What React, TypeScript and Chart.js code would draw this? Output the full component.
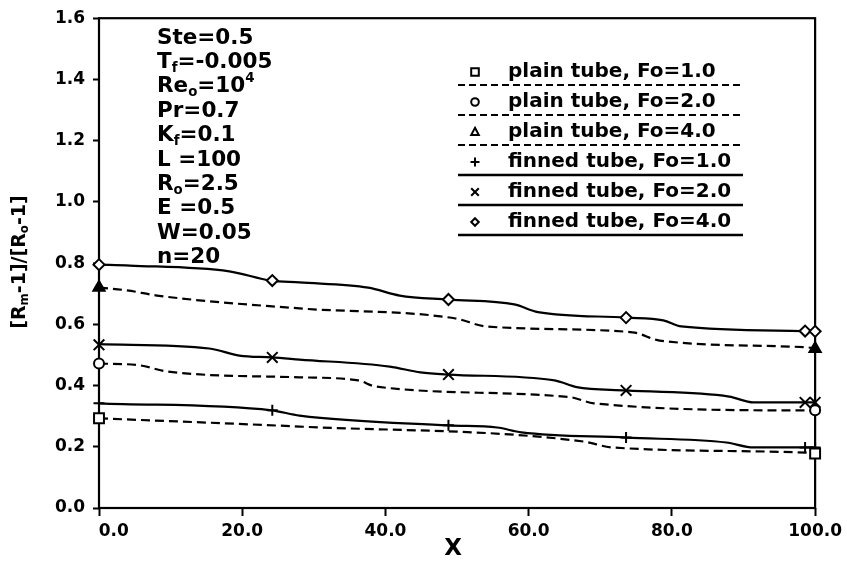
import React, { useEffect, useRef } from 'react';
import { Chart, registerables } from 'chart.js';

Chart.register(...registerables);

// ---------- data ----------
const xTickValues = [0, 20, 40, 60, 80, 100];
const yTickValues = [0, 0.2, 0.4, 0.6, 0.8, 1.0, 1.2, 1.4, 1.6];

// plain tube curves (dashed)
const plain1X = [0, 28.0, 67.7, 71.6, 98.7, 100];
const plain1Y = [0.293, 0.266, 0.217, 0.198, 0.181, 0.178];
const plain2X = [0, 5.7, 9.5, 28.0, 36.2, 38.6, 65.8, 69.1, 98.7, 100];
const plain2Y = [0.472, 0.466, 0.446, 0.427, 0.417, 0.397, 0.362, 0.342, 0.319, 0.319];
const plain4X = [0, 3.9, 8.1, 28.0, 49.8, 54.1, 74.5, 78.3, 98.7, 100];
const plain4Y = [0.72, 0.711, 0.694, 0.652, 0.619, 0.593, 0.574, 0.547, 0.525, 0.522];

// finned tube curves (solid)
const finned1X = [0, 24.1, 28.0, 48.8, 55.6, 59.0, 73.6, 87.6, 91.4, 98.6, 100];
const finned1Y = [0.342, 0.319, 0.302, 0.27, 0.263, 0.247, 0.23, 0.214, 0.198, 0.198, 0.198];
const finned2X = [0, 15.4, 19.6, 24.1, 28.0, 40.6, 44.9, 48.7, 63.6, 66.7, 73.6, 88.0, 91.4, 98.6, 100];
const finned2Y = [0.535, 0.521, 0.498, 0.492, 0.485, 0.462, 0.443, 0.436, 0.417, 0.395, 0.384, 0.364, 0.345, 0.345, 0.345];
const finned4X = [0, 4.3, 18.2, 24.0, 28.0, 37.6, 42.0, 48.8, 58.0, 61.3, 73.6, 78.8, 81.3, 98.2, 100];
const finned4Y = [0.795, 0.792, 0.773, 0.743, 0.737, 0.72, 0.694, 0.681, 0.665, 0.64, 0.622, 0.613, 0.593, 0.578, 0.577];

// markers
const plainMarkX = [0, 100];
const plain1MarkY = [0.293, 0.178];
const plain2MarkY = [0.472, 0.319];
const plain4MarkY = [0.72, 0.52];
const finnedMarkX = [0, 24.2, 48.8, 73.6, 98.6, 100];
const finned1MarkY = [0.342, 0.319, 0.27, 0.23, 0.198, 0.198];
const finned2MarkY = [0.533, 0.492, 0.436, 0.384, 0.345, 0.345];
const finned4MarkY = [0.795, 0.743, 0.681, 0.622, 0.578, 0.577];

const legendLabels = [
  'plain tube, Fo=1.0',
  'plain tube, Fo=2.0',
  'plain tube, Fo=4.0',
  'finned tube, Fo=1.0',
  'finned tube, Fo=2.0',
  'finned tube, Fo=4.0',
];
const legendMarkers = ['rect', 'circle', 'triangle', 'cross', 'crossRot', 'rectRot'];
const legendDashed = [true, true, true, false, false, false];

type Seg = { t: string; sub?: boolean; sup?: boolean };
const paramLines: Seg[][] = [
  [{ t: 'Ste=0.5' }],
  [{ t: 'T' }, { t: 'f', sub: true }, { t: '=-0.005' }],
  [{ t: 'Re' }, { t: 'o', sub: true }, { t: '=10' }, { t: '4', sup: true }],
  [{ t: 'Pr=0.7' }],
  [{ t: 'K' }, { t: 'f', sub: true }, { t: '=0.1' }],
  [{ t: 'L =100' }],
  [{ t: 'R' }, { t: 'o', sub: true }, { t: '=2.5' }],
  [{ t: 'E =0.5' }],
  [{ t: 'W=0.05' }],
  [{ t: 'n=20' }],
];
const yTitle: Seg[] = [
  { t: '[R' }, { t: 'm', sub: true }, { t: '-1]/[R' }, { t: 'o', sub: true }, { t: '-1]' },
];
const xTitle = 'X';

const FONT = '"DejaVu Sans", "Liberation Sans", Arial, sans-serif';

const pts = (xs: number[], ys: number[]) => xs.map((x, i) => ({ x, y: ys[i] }));

function richWidth(ctx: CanvasRenderingContext2D, segs: Seg[], size: number) {
  let w = 0;
  for (const s of segs) {
    const fs = s.sub || s.sup ? size * 0.62 : size;
    ctx.font = `bold ${fs}px ${FONT}`;
    w += ctx.measureText(s.t).width;
  }
  return w;
}

function drawRich(ctx: CanvasRenderingContext2D, segs: Seg[], x: number, y: number, size: number) {
  let cx = x;
  for (const s of segs) {
    const fs = s.sub || s.sup ? size * 0.62 : size;
    ctx.font = `bold ${fs}px ${FONT}`;
    const dy = s.sub ? size * 0.28 : s.sup ? -size * 0.38 : 0;
    ctx.fillText(s.t, cx, y + dy);
    cx += ctx.measureText(s.t).width;
  }
}

function drawMarker(ctx: CanvasRenderingContext2D, style: string, x: number, y: number, r: number) {
  ctx.save();
  ctx.strokeStyle = '#000';
  ctx.fillStyle = '#fff';
  ctx.lineWidth = 2;
  ctx.setLineDash([]);
  ctx.beginPath();
  if (style === 'rect') {
    ctx.rect(x - r, y - r, 2 * r, 2 * r);
    ctx.fill();
    ctx.stroke();
  } else if (style === 'circle') {
    ctx.arc(x, y, r, 0, Math.PI * 2);
    ctx.fill();
    ctx.stroke();
  } else if (style === 'triangle') {
    ctx.moveTo(x, y - r * 1.1);
    ctx.lineTo(x + r, y + r * 0.8);
    ctx.lineTo(x - r, y + r * 0.8);
    ctx.closePath();
    ctx.fill();
    ctx.stroke();
  } else if (style === 'cross') {
    ctx.moveTo(x - r, y);
    ctx.lineTo(x + r, y);
    ctx.moveTo(x, y - r);
    ctx.lineTo(x, y + r);
    ctx.stroke();
  } else if (style === 'crossRot') {
    ctx.moveTo(x - r, y - r);
    ctx.lineTo(x + r, y + r);
    ctx.moveTo(x + r, y - r);
    ctx.lineTo(x - r, y + r);
    ctx.stroke();
  } else if (style === 'rectRot') {
    ctx.moveTo(x, y - r);
    ctx.lineTo(x + r, y);
    ctx.lineTo(x, y + r);
    ctx.lineTo(x - r, y);
    ctx.closePath();
    ctx.fill();
    ctx.stroke();
  }
  ctx.restore();
}

const framePlugin = {
  id: 'frame',
  beforeDatasetsDraw(chart: any) {
    const { ctx, chartArea } = chart;
    const { left, right, top, bottom } = chartArea;
    ctx.save();
    ctx.strokeStyle = '#000';
    ctx.lineWidth = 2.2;
    ctx.strokeRect(left, top, right - left, bottom - top);
    ctx.restore();
  },
};

const overlayPlugin = {
  id: 'overlay',
  afterDraw(chart: any) {
    const { ctx } = chart;
    ctx.save();
    ctx.fillStyle = '#000';
    ctx.textBaseline = 'middle';
    ctx.textAlign = 'left';

    // parameter block
    paramLines.forEach((segs, i) => {
      drawRich(ctx, segs, 157, 38 + i * 24.4, 21.5);
    });

    // legend
    legendLabels.forEach((label, i) => {
      const cy = 72 + i * 30;
      drawMarker(ctx, legendMarkers[i], 475, cy, legendMarkers[i] === 'cross' ? 4.5 : 3.8);
      ctx.fillStyle = '#000';
      ctx.font = `bold 20px ${FONT}`;
      ctx.fillText(label, 508, cy);
      ctx.beginPath();
      ctx.strokeStyle = '#000';
      if (legendDashed[i]) {
        ctx.setLineDash([7, 4]);
        ctx.lineWidth = 1.8;
      } else {
        ctx.setLineDash([]);
        ctx.lineWidth = 2.4;
      }
      ctx.moveTo(458, cy + 13);
      ctx.lineTo(743, cy + 13);
      ctx.stroke();
      ctx.setLineDash([]);
    });

    // y title
    ctx.save();
    ctx.translate(20, 262);
    ctx.rotate(-Math.PI / 2);
    const w = richWidth(ctx, yTitle, 19);
    drawRich(ctx, yTitle, -w / 2, 0, 19);
    ctx.restore();

    // x title
    ctx.font = `bold 23px ${FONT}`;
    ctx.textAlign = 'center';
    ctx.fillText(xTitle, 453, 549);
    ctx.restore();
  },
};

function lineDs(xs: number[], ys: number[], dashed: boolean) {
  return {
    type: 'line',
    data: pts(xs, ys),
    borderColor: '#000',
    borderWidth: 2.2,
    borderDash: dashed ? [9, 5] : [],
    pointRadius: 0,
    cubicInterpolationMode: 'monotone',
    fill: false,
    order: 2,
  };
}

function markDs(xs: number[], ys: number[], style: string, radius: number, filled: boolean) {
  return {
    type: 'scatter',
    data: pts(xs, ys),
    showLine: false,
    pointStyle: style,
    pointRadius: radius,
    pointBorderColor: '#000',
    pointBackgroundColor: filled ? '#000' : '#fff',
    pointBorderWidth: 2,
    clip: false,
    order: 1,
  };
}

export default function App() {
  const canvasRef = useRef<HTMLCanvasElement | null>(null);

  useEffect(() => {
    document.body.style.margin = '0';
    const canvas = canvasRef.current;
    if (!canvas) return;
    const chart = new Chart(canvas, {
      type: 'line',
      data: {
        datasets: [
          lineDs(plain1X, plain1Y, true),
          lineDs(plain2X, plain2Y, true),
          lineDs(plain4X, plain4Y, true),
          lineDs(finned1X, finned1Y, false),
          lineDs(finned2X, finned2Y, false),
          lineDs(finned4X, finned4Y, false),
          markDs(plainMarkX, plain1MarkY, 'rect', 7, false),
          markDs(plainMarkX, plain2MarkY, 'circle', 5, false),
          markDs(plainMarkX, plain4MarkY, 'triangle', 6.5, true),
          markDs(finnedMarkX, finned1MarkY, 'cross', 5.5, false),
          markDs(finnedMarkX, finned2MarkY, 'crossRot', 7.5, false),
          markDs(finnedMarkX, finned4MarkY, 'rectRot', 5.5, false),
        ] as any,
      },
      options: {
        animation: false,
        responsive: false,
        devicePixelRatio: 1,
        layout: { padding: { top: 18, right: 29, left: 0, bottom: 0 } },
        plugins: { legend: { display: false }, tooltip: { enabled: false } },
        scales: {
          x: {
            type: 'linear',
            min: 0,
            max: 100,
            afterFit: (s: any) => {
              s.height = 57;
            },
            afterBuildTicks: (s: any) => {
              s.ticks = xTickValues.map((v) => ({ value: v }));
            },
            grid: {
              drawOnChartArea: false,
              drawTicks: true,
              tickLength: 8,
              tickColor: '#000',
              tickWidth: 2,
            },
            border: { display: false },
            ticks: {
              color: '#000',
              padding: 5,
              maxRotation: 0,
              autoSkip: false,
              font: { family: FONT, size: 17, weight: 'bold' },
              callback: (v: any) => (Number(v) === 0 ? '     0.0' : Number(v).toFixed(1)),
            },
          },
          y: {
            type: 'linear',
            min: 0,
            max: 1.6,
            afterFit: (s: any) => {
              s.width = 99;
            },
            afterBuildTicks: (s: any) => {
              s.ticks = yTickValues.map((v) => ({ value: v }));
            },
            grid: {
              drawOnChartArea: false,
              drawTicks: true,
              tickLength: 6,
              tickColor: '#000',
              tickWidth: 2,
            },
            border: { display: false },
            ticks: {
              color: '#000',
              padding: 8,
              autoSkip: false,
              font: { family: FONT, size: 17, weight: 'bold' },
              callback: (v: any) => Number(v).toFixed(1),
            },
          },
        },
      } as any,
      plugins: [framePlugin, overlayPlugin],
    });
    return () => chart.destroy();
  }, []);

  return (
    <div style={{ width: 847, height: 565, background: '#fff' }}>
      <canvas ref={canvasRef} width={847} height={565} style={{ display: 'block' }} />
    </div>
  );
}
